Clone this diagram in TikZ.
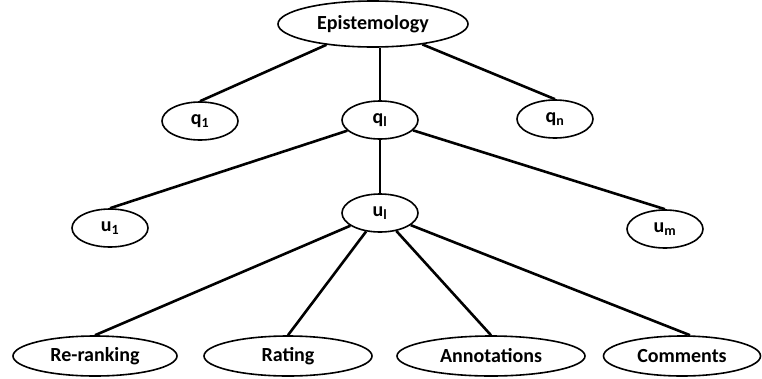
\documentclass[tikz,border=0pt]{standalone}
\usepackage{fontspec}
\setmainfont{Carlito}
\usetikzlibrary{shapes.geometric}
\begin{document}
\begin{tikzpicture}[x=1pt,y=-1pt,
  oval/.style={ellipse,draw,line width=1.6pt,inner sep=0pt,font=\bfseries\fontsize{20}{24}\selectfont},
  small/.style={oval,minimum width=76pt,minimum height=38pt},
  link/.style={line width=2.6pt}]
\useasboundingbox (0,0) rectangle (762,378);
% top of the tree
\node[oval,minimum width=190pt,minimum height=46pt] (epi) at (373,24) {Epistemology};
\node[small] (q1) at (200,121) {q\textsubscript{1}};
\node[small] (ql) at (380,120) {q\textsubscript{l}};
\node[small] (qn) at (555,119) {q\textsubscript{n}};
% users of query l
\node[small] (u1) at (110,228) {u\textsubscript{1}};
\node[small] (ul) at (380,213) {u\textsubscript{l}};
\node[small] (um) at (665,229) {u\textsubscript{m}};
% feedback kinds
\node[oval,minimum width=164pt,minimum height=40pt] (rr) at (95,356) {Re-ranking};
\node[oval,minimum width=168pt,minimum height=40pt] (rt) at (288,356) {Rating};
\node[oval,minimum width=188pt,minimum height=40pt] (an) at (491,356) {Annotations};
\node[oval,minimum width=157pt,minimum height=40pt] (cm) at (682,356) {Comments};
% connectors
\draw[link] (epi) -- (q1.north);
\draw[link] (ql.north) -- (ql.north |- epi.south);
\draw[link] (epi) -- (qn.north);
\draw[link] (ql) -- (u1.north);
\draw[link] (ql) -- (ul.north);
\draw[link] (ql) -- (um.north);
\draw[link] (ul) -- (rr.north);
\draw[link] (ul) -- (rt.north);
\draw[link] (ul) -- (an.north);
\draw[link] (ul) -- ([xshift=8pt]cm.north);
\end{tikzpicture}
\end{document}
